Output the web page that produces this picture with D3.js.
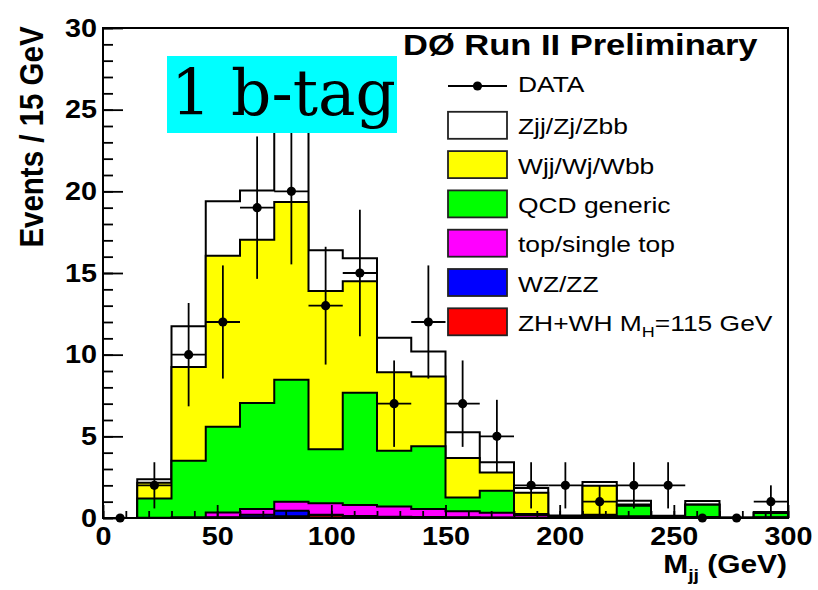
<!DOCTYPE html>
<html><head><meta charset="utf-8">
<script src="https://cdn.jsdelivr.net/npm/d3@7"></script>
<style>body{margin:0;background:#fff}svg{display:block}</style>
</head><body><svg id="c" width="818" height="590"></svg>
<script>
// ---- data ----
const binLow = d3.range(0, 300, 15);            // bin lower edges (GeV), width 15
const dataCounts = [0,2,10,12,19,20,13,15,7,12,7,5,2,2,1,2,2,0,0,1];
const zhwh  = [0,0,0,0.02,0.05,0.1,0.15,0.08,0.05,0.03,0.02,0.02,0.01,0,0.01,0.01,0,0.01,0,0.01];
const wzzz  = [0,0,0,0.03,0.15,0.35,0.05,0.04,0.03,0.03,0.02,0.01,0.01,0.01,0.01,0.01,0.01,0.01,0,0.01];
const topst = [0,0.02,0.05,0.28,0.35,0.55,0.7,0.68,0.62,0.49,0.38,0.29,0.16,0.07,0.1,0.08,0.05,0.04,0.01,0.03];
const qcd   = [0,1.18,3.45,5.25,6.49,7.47,3.31,6.87,3.41,3.85,0.83,1.35,0.07,0.02,0.08,0.65,0.04,0.75,0,0.25];
const wjj   = [0,0.96,5.74,10.48,9.99,10.88,9.69,6.83,4.82,4.27,2.42,1.12,1.3,0.02,1.77,0.07,0.02,0.02,0,0.02];
const zjj   = [0,0.22,2.5,3.33,3.02,5.65,2.5,1.4,2.1,1.53,1.58,0.63,0.28,0.03,0.23,0.23,0.02,0.21,0.01,0.05];
const seriesKeys = ["zhwh","wzzz","topst","qcd","wjj","zjj"];           // bottom -> top
const seriesColors = {zhwh:"#ff0000", wzzz:"#0000ff", topst:"#ff00ff", qcd:"#00ff00", wjj:"#ffff00", zjj:"#ffffff"};
const legendLabels = ["Zjj/Zj/Zbb","Wjj/Wj/Wbb","QCD generic","top/single top","WZ/ZZ","ZH+WH"];
const legendKeys = ["zjj","wjj","qcd","topst","wzzz","zhwh"];
const xTicks = [0,50,100,150,200,250,300];
const yTicks = [0,5,10,15,20,25,30];
const xMinor = d3.range(0, 301, 10);
const yMinor = d3.range(0, 31, 1);

// ---- scales ----
const svg = d3.select("#c");
const x = d3.scaleLinear().domain([0,300]).range([103,788]);
const y = d3.scaleLinear().domain([0,30]).range([518,28]);
const FONT = "'Liberation Sans', Arial, Helvetica, sans-serif";

const rows = binLow.map((lo,i)=>({lo, zhwh:zhwh[i], wzzz:wzzz[i], topst:topst[i], qcd:qcd[i], wjj:wjj[i], zjj:zjj[i]}));
const stacked = d3.stack().keys(seriesKeys)(rows);

const area = d3.area()
  .x(d=>x(d.x)).y0(y(0)).y1(d=>y(d.v))
  .curve(d3.curveStepAfter);

// draw from top of stack downwards, each as cumulative histogram
stacked.slice().reverse().forEach(layer=>{
  const pts = layer.map((d,i)=>({x:binLow[i], v:d[1]}));
  pts.push({x:300, v:layer[layer.length-1][1]});
  svg.append("path").attr("d", area(pts))
    .attr("fill", seriesColors[layer.key])
    .attr("stroke","#000").attr("stroke-width",2).attr("stroke-linejoin","miter");
});

// ---- data points ----
const gData = svg.append("g");
binLow.forEach((lo,i)=>{
  const n = dataCounts[i], c = lo+7.5;
  if (n>0){
    const e = Math.sqrt(n);
    gData.append("line").attr("x1",x(c)).attr("x2",x(c)).attr("y1",y(n-e)).attr("y2",y(n+e))
      .attr("stroke","#000").attr("stroke-width",1.8);
    gData.append("line").attr("x1",x(lo)).attr("x2",x(lo+15)).attr("y1",y(n)).attr("y2",y(n))
      .attr("stroke","#000").attr("stroke-width",1.8);
  }
  gData.append("circle").attr("cx",x(c)).attr("cy",y(n)).attr("r",4.6).attr("fill","#000");
});

// ---- axes ----
function styleAxis(g){ g.select(".domain").remove(); g.selectAll("line").attr("stroke","#000").attr("stroke-width",1.8); }
svg.append("g").attr("transform",`translate(${x(0)},0)`)
  .call(d3.axisLeft(y).tickValues(yMinor).tickSizeInner(-10).tickSizeOuter(0).tickFormat(""))
  .call(styleAxis);
svg.append("g").attr("transform",`translate(0,${y(0)})`)
  .call(d3.axisBottom(x).tickValues(xMinor).tickSizeInner(-7).tickSizeOuter(0).tickFormat(""))
  .call(styleAxis);
const yAx = svg.append("g").attr("transform",`translate(${x(0)},0)`)
  .call(d3.axisLeft(y).tickValues(yTicks).tickSizeInner(-20).tickSizeOuter(0).tickPadding(6).tickFormat(d3.format("d")))
  .call(styleAxis);
yAx.selectAll("text").attr("font-family",FONT).attr("font-weight","bold").attr("font-size",25).attr("fill","#000")
  .attr("transform","scale(1.15,1)").attr("x",-6/1.15);
const xAx = svg.append("g").attr("transform",`translate(0,${y(0)})`)
  .call(d3.axisBottom(x).tickValues(xTicks).tickSizeInner(-13).tickSizeOuter(0).tickPadding(9).tickFormat(d3.format("d")))
  .call(styleAxis);
xAx.selectAll("text").attr("font-family",FONT).attr("font-weight","bold").attr("font-size",25).attr("fill","#000")
  .attr("transform","scale(1.15,1)");

// frame
svg.append("rect").attr("x",x(0)).attr("y",y(30)).attr("width",x(300)-x(0)).attr("height",y(0)-y(30))
  .attr("fill","none").attr("stroke","#000").attr("stroke-width",2);

// axis titles
svg.append("text").attr("transform","translate(43,137) rotate(-90) scale(1,1.15)")
  .attr("text-anchor","middle").attr("font-family",FONT).attr("font-weight","bold").attr("font-size",29.5)
  .text("Events / 15 GeV");
const xt = svg.append("text").attr("transform","translate(787,573) scale(1.15,1)")
  .attr("text-anchor","end").attr("font-family",FONT).attr("font-weight","bold").attr("font-size",26);
xt.append("tspan").text("M");
xt.append("tspan").attr("font-size",17).attr("dy",8).text("jj");
xt.append("tspan").attr("dy",-8).text(" (GeV)");

// ---- legend ----
svg.append("text").attr("transform","translate(403,55) scale(1.15,1)")
  .attr("font-family",FONT).attr("font-weight","bold").attr("font-size",30).text("DØ Run II Preliminary");
const lx = 448, lw = 59, lh = 27, rowGap = 39.3, row0 = 86;
svg.append("line").attr("x1",lx).attr("x2",lx+lw).attr("y1",row0).attr("y2",row0).attr("stroke","#000").attr("stroke-width",1.8);
svg.append("circle").attr("cx",lx+lw/2).attr("cy",row0).attr("r",4.6).attr("fill","#000");
svg.append("text").attr("transform",`translate(518,${row0+6}) scale(1.2,1)`)
  .attr("font-family",FONT).attr("font-size",22).text("DATA");
legendKeys.forEach((k,i)=>{
  const cy = row0 + rowGap*(i+1);
  svg.append("rect").attr("x",lx).attr("y",cy-lh/2).attr("width",lw).attr("height",lh)
    .attr("fill",seriesColors[k]).attr("stroke","#222").attr("stroke-width",1.8);
  const t = svg.append("text").attr("transform",`translate(518,${cy+9}) scale(1.2,1)`)
    .attr("font-family",FONT).attr("font-size",22);
  t.append("tspan").text(legendLabels[i]);
  if (k==="zhwh"){
    t.append("tspan").text(" M");
    t.append("tspan").attr("font-size",15).attr("dy",6).text("H");
    t.append("tspan").attr("dy",-6).text("=115 GeV");
  }
});

// ---- annotation ----
svg.append("rect").attr("x",167).attr("y",56).attr("width",230).attr("height",77).attr("fill","#00ffff");
svg.append("text").attr("x",171).attr("y",115).attr("font-family","'DejaVu Serif', serif").attr("font-size",63)
  .attr("fill","#000").text("1 b-tag");
</script></body></html>
